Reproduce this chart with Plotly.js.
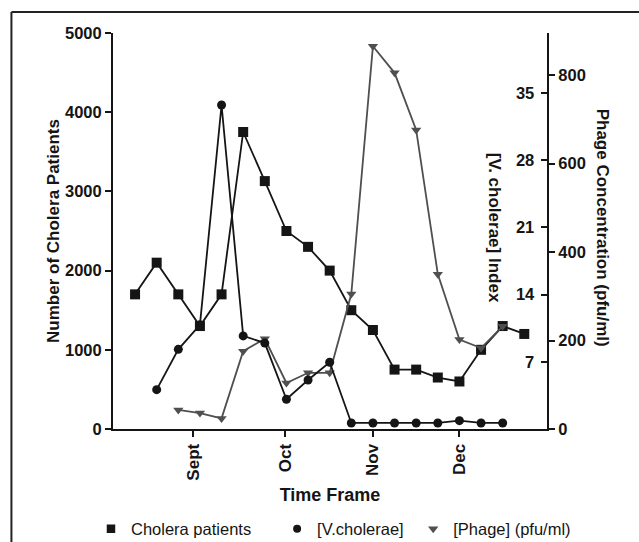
<!DOCTYPE html>
<html>
<head>
<meta charset="utf-8">
<script src="https://cdn.plot.ly/plotly-3.0.1.min.js"></script>
<style>
  html, body { margin: 0; padding: 0; background: #ffffff; }
  #chart { width: 639px; height: 542px; }
</style>
</head>
<body>
<div id="chart"></div>
<script>
// ---- data ----
var weekIndex = [0, 1, 2, 3, 4, 5, 6, 7, 8, 9, 10, 11, 12, 13, 14, 15, 16, 17, 18];
var choleraPatients = [1700, 2100, 1700, 1300, 1700, 3750, 3130, 2500, 2300, 2000, 1500, 1250, 750, 750, 650, 600, 1000, 1300, 1200];

var vcWeeks = [1, 2, 3, 4, 5, 6, 7, 8, 9, 10, 11, 12, 13, 14, 15, 16, 17];
var vcIndex = [4.1, 8.3, 10.85, 33.75, 9.7, 8.95, 3.1, 5.1, 6.95, 0.63, 0.63, 0.63, 0.63, 0.63, 0.87, 0.63, 0.63];

var phageWeeks = [2, 3, 4, 5, 6, 7, 8, 9, 10, 11, 12, 13, 14, 15, 16, 17];
var phageConc = [43, 36, 24, 176, 204, 104, 127, 127, 305, 865, 805, 676, 350, 202, 183, 232];

var monthTickPos = [2.7, 6.95, 11.0, 15.0];
var monthLabels = ['Sept', 'Oct', 'Nov', 'Dec'];

var leftTicks = [0, 1000, 2000, 3000, 4000, 5000];
var phageTicks = [0, 200, 400, 600, 800];
var vcTicks = [7, 14, 21, 28, 35];

var seriesNames = ['Cholera patients', '[V.cholerae]', '[Phage] (pfu/ml)'];

// ---- styling ----
var FONT = 'Liberation Sans, Arial, sans-serif';
var INK = '#151515';
var GREY = '#4f4f4f';

var traces = [
  {
    x: weekIndex, y: choleraPatients, yaxis: 'y', type: 'scatter', mode: 'lines+markers',
    name: seriesNames[0], showlegend: false,
    line: {color: INK, width: 1.8},
    marker: {symbol: 'square', size: 10, color: INK}
  },
  {
    x: phageWeeks, y: phageConc, yaxis: 'y2', type: 'scatter', mode: 'lines+markers',
    name: seriesNames[2], showlegend: false,
    line: {color: GREY, width: 1.8},
    marker: {symbol: 'triangle-down', size: 9, color: GREY}
  },
  {
    x: vcWeeks, y: vcIndex, yaxis: 'y3', type: 'scatter', mode: 'lines+markers',
    name: seriesNames[1], showlegend: false,
    line: {color: INK, width: 1.8},
    marker: {symbol: 'circle', size: 9, color: INK}
  },
  // legend-only entries (marker without line, as in the reference legend)
  {
    x: [null], y: [null], type: 'scatter', mode: 'markers', name: seriesNames[0],
    legend: 'legend', marker: {symbol: 'square', size: 8.5, color: INK}
  },
  {
    x: [null], y: [null], type: 'scatter', mode: 'markers', name: seriesNames[1],
    legend: 'legend2', marker: {symbol: 'circle', size: 8, color: INK}
  },
  {
    x: [null], y: [null], type: 'scatter', mode: 'markers', name: seriesNames[2],
    legend: 'legend3', marker: {symbol: 'triangle-down', size: 9, color: GREY}
  }
];

var L = 113, R = 92.3, T = 33, B = 113;
var W = 639, H = 542;
var pw = W - L - R, ph = H - T - B;
function px2x(p) { return (p - L) / pw; }
function py2y(p) { return (H - B - p) / ph; }

var tickFont = {family: FONT, size: 16.5, color: INK, weight: 'bold'};
var titleFont = {family: FONT, size: 17, color: INK, weight: 'bold'};
var legendFont = {family: FONT, size: 16.5, color: INK};

function legendAt(xp) {
  return {
    orientation: 'h', x: px2x(xp), xanchor: 'left', y: py2y(529), yanchor: 'middle',
    font: legendFont, bgcolor: 'rgba(0,0,0,0)', borderwidth: 0
  };
}

var layout = {
  width: W, height: H,
  margin: {l: L, r: R, t: T, b: B, pad: 0, autoexpand: false},
  paper_bgcolor: '#ffffff',
  plot_bgcolor: '#ffffff',
  font: {family: FONT, color: INK},
  showlegend: true,
  legend: legendAt(91),
  legend2: legendAt(277),
  legend3: legendAt(413),
  xaxis: {
    range: [-1.02, 19.05],
    tickmode: 'array', tickvals: monthTickPos, ticktext: monthLabels,
    tickangle: -90,
    ticks: 'outside', ticklen: 6, tickwidth: 2, tickcolor: INK,
    showline: true, linewidth: 2, linecolor: INK,
    showgrid: false, zeroline: false,
    tickfont: {family: FONT, size: 17, color: INK, weight: 'bold'},
    title: {text: 'Time Frame', font: {family: FONT, size: 18, color: INK, weight: 'bold'}, standoff: 9}
  },
  yaxis: {
    range: [0, 5000],
    tickmode: 'array', tickvals: leftTicks,
    ticks: 'outside', ticklen: 6, tickwidth: 2, tickcolor: INK,
    showline: true, linewidth: 2, linecolor: INK,
    showgrid: false, zeroline: false,
    tickfont: tickFont,
    title: {text: 'Number of Cholera Patients', font: titleFont, standoff: 1}
  },
  yaxis2: {
    overlaying: 'y', side: 'right', anchor: 'x',
    range: [0, 895],
    tickmode: 'array', tickvals: phageTicks,
    ticks: 'outside', ticklen: 6, tickwidth: 2, tickcolor: INK,
    showline: true, linewidth: 2, linecolor: INK,
    showgrid: false, zeroline: false,
    tickfont: tickFont
  },
  yaxis3: {
    overlaying: 'y', side: 'right', anchor: 'x',
    range: [0, 41.25],
    tickmode: 'array', tickvals: vcTicks,
    ticks: 'inside', ticklen: 6, tickwidth: 2, tickcolor: INK,
    ticklabelposition: 'inside', ticklabelstandoff: 7,
    showline: false,
    showgrid: false, zeroline: false,
    tickfont: tickFont
  },
  annotations: [
    {
      xref: 'paper', yref: 'paper', x: px2x(495), y: py2y(228),
      text: '[V. cholerae] Index', textangle: 90, showarrow: false,
      xanchor: 'center', yanchor: 'middle', font: titleFont
    },
    {
      xref: 'paper', yref: 'paper', x: px2x(603), y: py2y(228),
      text: 'Phage Concentration (pfu/ml)', textangle: 90, showarrow: false,
      xanchor: 'center', yanchor: 'middle', font: titleFont
    }
  ],
  shapes: [
    {type: 'line', xref: 'paper', yref: 'paper', x0: px2x(11.5), x1: px2x(11.5), y0: py2y(12), y1: py2y(560), line: {color: '#222', width: 2}},
    {type: 'line', xref: 'paper', yref: 'paper', x0: px2x(11.5), x1: px2x(660), y0: py2y(12), y1: py2y(12), line: {color: '#222', width: 2}}
  ]
};

Plotly.newPlot('chart', traces, layout, {displayModeBar: false, staticPlot: true});
</script>
</body>
</html>
